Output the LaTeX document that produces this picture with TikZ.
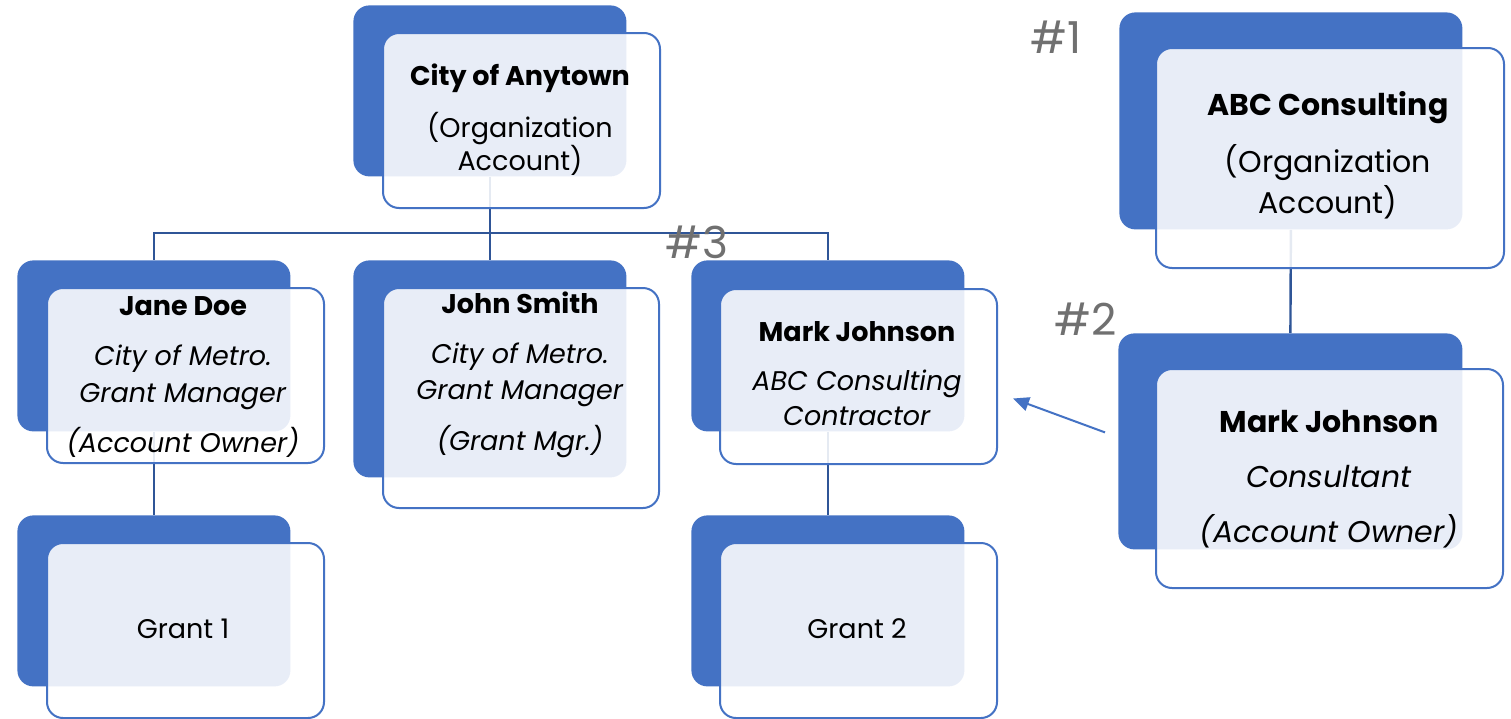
\documentclass[tikz,border=0pt]{standalone}
\usepackage{fontspec}
\setmainfont{Poppins}
\usetikzlibrary{positioning}
\usetikzlibrary{arrows.meta}
\definecolor{cardblue}{HTML}{4472C4}
\definecolor{linkblue}{HTML}{2F5597}
\definecolor{taggray}{HTML}{707070}

\begin{document}
\begin{tikzpicture}[x=0.5pt, y=-0.5pt,
    back/.style = {fill=cardblue, rounded corners=8pt, inner sep=0pt, anchor=north west,
        minimum width=136.5pt, minimum height=85.5pt},
    front/.style = {draw=cardblue, line width=1pt, fill=white, fill opacity=0.88,
        rounded corners=8pt, inner sep=0pt, anchor=north west,
        minimum width=138.5pt, minimum height=87.5pt},
    link/.style = {draw=linkblue, line width=1.2pt},
    txt/.style = {align=center, anchor=base, font=\fontsize{13.5}{16.5}\selectfont},
    bigtxt/.style = {align=center, anchor=base, font=\fontsize{15}{18}\selectfont},
    tag/.style = {text=taggray, font=\fontsize{22}{22}\selectfont}]
    \useasboundingbox[fill=white] (0,0) rectangle (1511,718);

    % blue cards at the back
    \node[back] (org) at (353,5) {};
    \node[back] (jane) at (17,260) {};
    \node[back, minimum height=108.5pt] (john) at (353,260) {};
    \node[back] (mark) at (691,260) {};
    \node[back] (grant1) at (17,515) {};
    \node[back] (grant2) at (691,515) {};
    \node[back, minimum width=171.5pt, minimum height=108.5pt] (abc) at (1119,12) {};
    \node[back, minimum width=172pt, minimum height=108pt] (consult) at (1118,333) {};

    % tree lines
    \draw[link] (org.south) -- ++(0,56) -| (jane.north);
    \draw[link] (org.south) -- ++(0,56) -| (mark.north);
    \draw[link] (org.south) -- (john.north);
    \draw[link] (jane.south) -- (grant1.north);
    \draw[link] (mark.south) -- (grant2.north);
    \draw[link] (abc.south) -- (consult.north);

    % outlined cards in front
    \node[front] (orgf) at (382,32) {};
    \node[front] (janef) at (46,287) {};
    \node[front, minimum width=138pt, minimum height=110pt] (johnf) at (382,287) {};
    \node[front] (markf) at (719,288) {};
    \node[front] (grant1f) at (46,542) {};
    \node[front] (grant2f) at (719,542) {};
    \node[front, minimum width=174pt, minimum height=110pt] (abcf) at (1155,47) {};
    \node[front, minimum width=173.5pt, minimum height=109.5pt] (consultf) at (1155,368) {};

    % card texts (base = last line)
    \node[txt] (orgtxt) at (520,170) {\textbf{City of Anytown}\\[9.5pt] (Organization\\ Account)};
    \node[txt] (janetxt) at (183,452) {\textbf{Jane Doe}\\[8.5pt] \textit{City of Metro.}\\[2pt]
        \textit{Grant Manager}\\[8.5pt] \textit{(Account Owner)}};
    \node[txt] (johntxt) at (520,450) {\textbf{John Smith}\\[8.5pt] \textit{City of Metro.}\\[1.5pt]
        \textit{Grant Manager}\\[9pt] \textit{(Grant Mgr.)}};
    \node[txt] (marktxt) at (857,425) {\textbf{Mark Johnson}\\[8pt] \textit{ABC Consulting}\\[1pt]
        \textit{Contractor}};
    \node[txt] (grant1txt) at (183,638) {Grant 1};
    \node[txt] (grant2txt) at (857,638) {Grant 2};
    \node[bigtxt] (abctxt) at (1328,213) {\textbf{ABC Consulting}\\[9.5pt] (Organization\\[1pt] Account)};
    \node[bigtxt] (consulttxt) at (1329,542) {\textbf{Mark Johnson}\\[9.5pt] \textit{Consultant}\\[9.5pt]
        \textit{(Account Owner)}};

    % step numbers
    \node[tag] (t1) at (1056,37) {\#1};
    \node[tag] (t2) at (1086,319) {\#2};
    \node[tag] (t3) at (697,242) {\#3};

    \draw[draw=cardblue, line width=1pt, -{Triangle[length=8pt,width=7pt]}]
        ([xshift=-6.5pt,yshift=4.5pt]consult.west) -- ([xshift=7.5pt,yshift=-11pt]markf.east);
\end{tikzpicture}
\end{document}
